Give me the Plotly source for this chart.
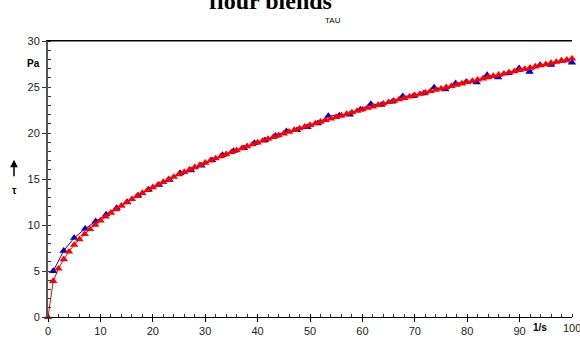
import plotly.graph_objects as go

# Red series (flour blend A)
red_x = list(range(0, 101))
red_y = [0.00, 3.90, 5.25, 6.27, 7.10, 7.85, 8.45, 9.02, 9.55, 10.02, 10.48,
         10.90, 11.32, 11.71, 12.09, 12.45, 12.80, 13.14, 13.47, 13.78, 14.09,
         14.38, 14.67, 14.96, 15.23, 15.50, 15.76, 16.02, 16.27, 16.52, 16.76,
         17.00, 17.23, 17.46, 17.69, 17.91, 18.12, 18.34, 18.55, 18.76, 18.96,
         19.16, 19.36, 19.56, 19.75, 19.94, 20.13, 20.32, 20.50, 20.68, 20.86,
         21.04, 21.22, 21.39, 21.56, 21.73, 21.90, 22.07, 22.23, 22.40, 22.56,
         22.72, 22.88, 23.03, 23.19, 23.35, 23.50, 23.65, 23.80, 23.95, 24.10,
         24.25, 24.39, 24.54, 24.68, 24.82, 24.97, 25.10, 25.24, 25.38, 25.52,
         25.66, 25.79, 25.92, 26.06, 26.19, 26.32, 26.45, 26.58, 26.71, 26.84,
         26.97, 27.10, 27.22, 27.35, 27.47, 27.60, 27.72, 27.84, 27.96, 28.08]

# Blue series (flour blend B)
blue_x = [1.0, 3.0, 5.0, 7.1, 9.1, 11.1, 13.1, 15.1, 17.2, 19.2, 21.2, 23.2,
          25.2, 27.3, 29.3, 31.3, 33.3, 35.4, 37.4, 39.4, 41.4, 43.4, 45.5,
          47.5, 49.5, 51.5, 53.5, 55.6, 57.6, 59.6, 61.6, 63.6, 65.7, 67.7,
          69.7, 71.7, 73.7, 75.8, 77.8, 79.8, 81.8, 83.8, 85.9, 87.9, 89.9,
          91.9, 93.9, 96.0, 98.0, 100.0]
blue_y = [5.00, 7.20, 8.60, 9.60, 10.40, 11.15, 11.85, 12.50, 13.20, 13.85,
          14.35, 14.90, 15.65, 15.95, 16.45, 17.05, 17.60, 18.05, 18.35, 18.90,
          19.20, 19.70, 20.20, 20.30, 20.65, 21.05, 21.85, 21.90, 22.00, 22.55,
          23.15, 23.05, 23.40, 24.00, 24.00, 24.30, 24.95, 24.75, 25.40, 25.55,
          25.50, 26.30, 26.05, 26.50, 27.05, 26.65, 27.40, 27.40, 27.85, 27.65]

x_ticks = [0, 10, 20, 30, 40, 50, 60, 70, 80, 90, 100]
y_ticks = [0, 5, 10, 15, 20, 25, 30]

fig = go.Figure()
# invisible helper trace for the overlay axis (inner halves of major x ticks)
fig.add_trace(go.Scatter(x=[0, 100], y=[0, 0], xaxis="x2", mode="lines",
                         line=dict(width=0), hoverinfo="skip", showlegend=False))
fig.add_trace(go.Scatter(
    x=blue_x, y=blue_y, mode="lines+markers", cliponaxis=False,
    line=dict(color="#0000cc", width=1),
    marker=dict(symbol="triangle-up", size=7.5, color="#0000cc"),
    showlegend=False))
fig.add_trace(go.Scatter(
    x=red_x, y=red_y, mode="lines+markers", cliponaxis=False,
    line=dict(color="#ff0000", width=1),
    marker=dict(symbol="triangle-up", size=7.5, color="#ff0000"),
    showlegend=False))

axis_font = dict(family="Liberation Sans, Arial, sans-serif", size=11, color="#222")
fig.update_layout(
    xaxis=dict(range=[0, 100], tickvals=x_ticks[:-1], ticks="outside", ticklen=4,
               tickcolor="black", showline=True, linecolor="black", linewidth=1,
               mirror=True, showgrid=False, zeroline=False, tickfont=axis_font,
               minor=dict(dtick=2, ticks="inside", ticklen=3, tickcolor="#333",
                          showgrid=False)),
    xaxis2=dict(range=[0, 100], overlaying="x", side="bottom", tickvals=x_ticks,
                ticks="inside", ticklen=3, tickcolor="black", showticklabels=False,
                showline=False, showgrid=False, zeroline=False),
    yaxis=dict(range=[0, 30], tickvals=y_ticks, ticks="outside", ticklen=4,
               tickcolor="#333", showline=True, linecolor="#555", linewidth=2,
               showgrid=False, zeroline=False, tickfont=axis_font,
               minor=dict(dtick=1, ticks="inside", ticklen=3, tickcolor="#333",
                          showgrid=False)),
    yaxis2=dict(range=[0, 30], overlaying="y", side="right", showline=True,
                linecolor="black", linewidth=1, showticklabels=False, ticks="",
                showgrid=False, zeroline=False),
)

W, H = 580, 345
ml, mr, mt, mb = 48, 8, 41, 25
pw, ph = W - ml - mr, H - mt - mb

def px(xp):
    return (xp - ml) / pw

def py(yp):
    return (H - mb - yp) / ph

# top frame line
fig.add_shape(type="line", xref="paper", yref="paper", x0=0, x1=1, y0=1, y1=1,
              line=dict(color="black", width=1))

bold = dict(family="Liberation Sans, Arial, sans-serif", size=10, color="black")

def note(text, xp, yp, font):
    fig.add_annotation(text=text, x=px(xp), y=py(yp), xref="paper", yref="paper",
                       showarrow=False, xanchor="center", yanchor="middle", font=font)

note("<b>flour blends</b>", 270, 1,
     dict(family="Liberation Serif, Times New Roman, serif", size=24, color="black"))
note("TAU", 333, 20, dict(family="Liberation Sans, Arial, sans-serif", size=8, color="black"))
note("<b>Pa</b>", 33, 64, bold)
note("<b>τ</b>", 14, 192, bold)
note("<b>1/s</b>", 540, 331, bold)
fig.add_annotation(text="100", x=100, xref="x", y=py(331), yref="paper",
                   showarrow=False, xanchor="center", yanchor="middle", font=axis_font)
fig.add_annotation(text="", x=px(14), y=py(161), xref="paper", yref="paper",
                   showarrow=True, ax=0, ay=18, arrowhead=2, arrowsize=1, arrowwidth=1.5,
                   arrowcolor="black")

fig.update_layout(width=W, height=H, margin=dict(l=ml, r=mr, t=mt, b=mb),
                  plot_bgcolor="white", paper_bgcolor="white")
fig.write_html("out.html")
